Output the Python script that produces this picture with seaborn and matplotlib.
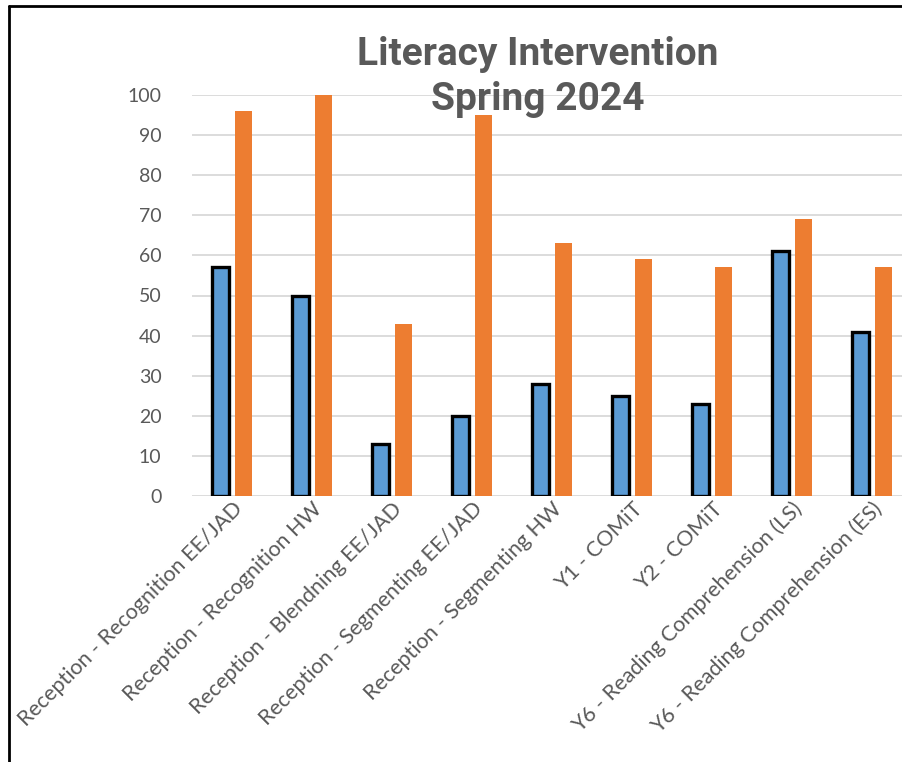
import pandas as pd
import seaborn as sns
import matplotlib.pyplot as plt
from matplotlib.lines import Line2D

# Chart data
categories = [
    'Reception - Recognition EE/JAD',
    'Reception - Recognition HW',
    'Reception - Blendning EE/JAD',
    'Reception - Segmenting EE/JAD',
    'Reception - Segmenting HW',
    'Y1 - COMiT',
    'Y2 - COMiT',
    'Y6 - Reading Comprehension (LS)',
    'Y6 - Reading Comprehension (ES)',
]
before = [57, 50, 13, 20, 28, 25, 23, 61, 41]
after = [96, 100, 43, 95, 63, 59, 57, 69, 57]
y_ticks = list(range(0, 101, 10))

df = pd.DataFrame({
    'category': categories * 2,
    'score': before + after,
    'series': ['Before'] * len(categories) + ['After'] * len(categories),
})

sns.set_style('white')
plt.rcParams['font.family'] = ['Lato', 'DejaVu Sans']

fig = plt.figure(figsize=(9.03, 7.62), dpi=100)
ax = fig.add_axes([192 / 903, 266 / 762, 720 / 903, 401 / 762])

sns.barplot(data=df, x='category', y='score', hue='series',
            palette={'Before': '#5B9BD5', 'After': '#ED7D31'},
            width=0.56, gap=0.25, saturation=1, ax=ax, legend=False,
            zorder=3)

# black outline on the first series only
for bar in ax.containers[0]:
    bar.set_edgecolor('black')
    bar.set_linewidth(2.4)
for bar in ax.containers[1]:
    bar.set_edgecolor('none')

ax.set_ylim(0, 100)
ax.set_xlim(-0.5, len(categories) - 0.5)
ax.set_yticks(y_ticks)
ax.yaxis.grid(True, color='#D9D9D9', linewidth=1.3, zorder=0)
ax.set_axisbelow(True)
for s in ax.spines.values():
    s.set_visible(False)
ax.set_xlabel('')
ax.set_ylabel('')
ax.tick_params(axis='y', length=0, labelsize=14, labelcolor='#595959', pad=22)
ax.tick_params(axis='x', length=0, labelsize=15.5, labelcolor='#595959', pad=2)
plt.setp(ax.get_xticklabels(), rotation=45, ha='right', rotation_mode='anchor')

fig.text(538 / 903, 1 - 77 / 762, 'Literacy Intervention\nSpring 2024',
         ha='center', va='center', fontsize=28, fontweight='bold',
         color='#595959', linespacing=1.27,
         family=['Liberation Sans Narrow', 'Roboto', 'DejaVu Sans'])

# frame lines (top and left only)
fig.add_artist(Line2D([9 / 903, 1], [1 - 6 / 762, 1 - 6 / 762],
                      transform=fig.transFigure, color='black', linewidth=2))
fig.add_artist(Line2D([9 / 903, 9 / 903], [0, 1 - 6 / 762],
                      transform=fig.transFigure, color='black', linewidth=2))

plt.savefig('out.png', dpi=100)
plt.close()
